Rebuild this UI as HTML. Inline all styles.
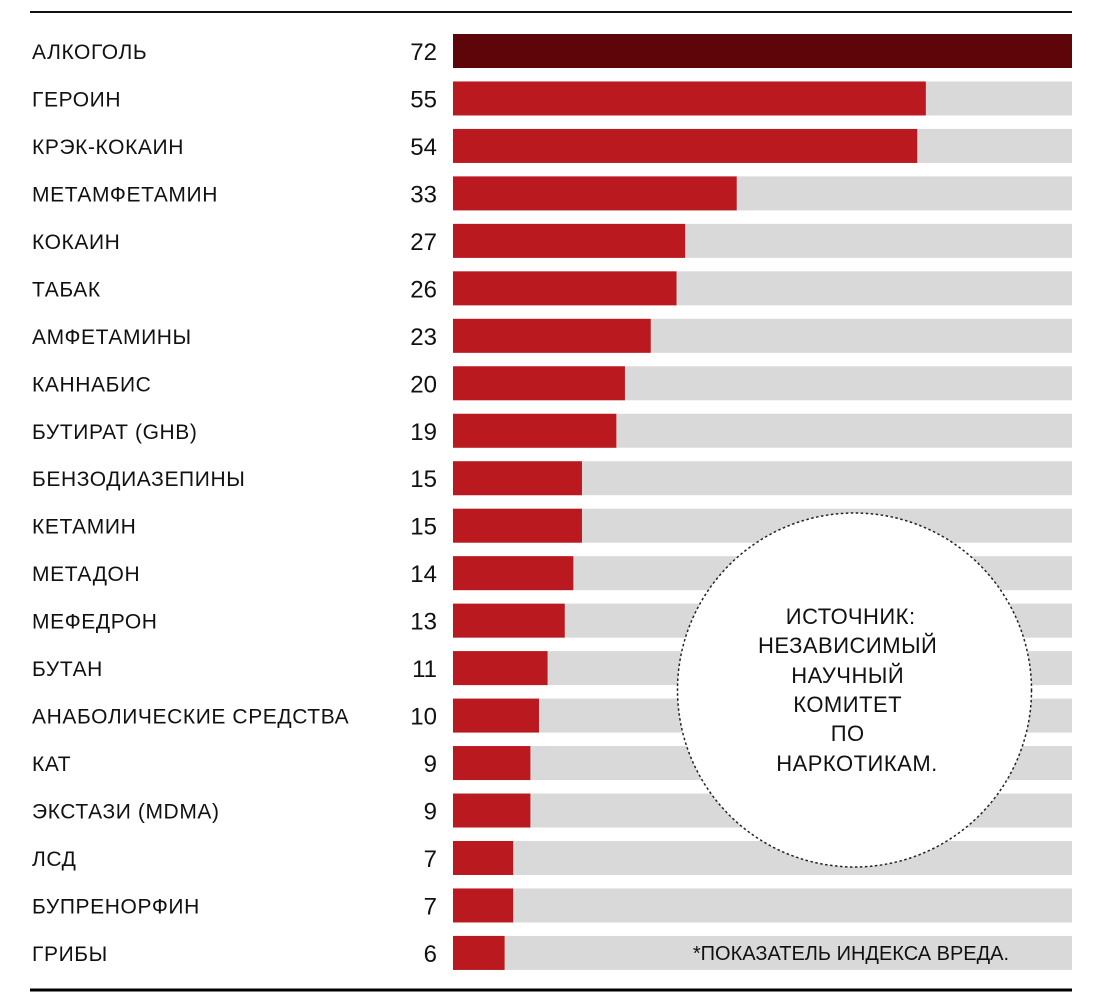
<!DOCTYPE html>
<html><head><meta charset="utf-8"><style>
html,body{margin:0;padding:0;background:#fff;}
svg{display:block;font-family:"Liberation Sans",sans-serif;}
</style></head><body>
<svg id="chart" width="1097" height="1007" viewBox="0 0 1097 1007">
<line x1="30" y1="12" x2="1072" y2="12" stroke="#111" stroke-width="2"/>
<line x1="30" y1="990" x2="1072" y2="990" stroke="#000" stroke-width="3"/>
<g id="rows"></g>
<circle cx="854.5" cy="690" r="177" fill="#fff" stroke="#222" stroke-width="1.5" stroke-dasharray="2.5,2.5"/>
<text text-anchor="middle" font-size="22" fill="#111" letter-spacing="0.5">
<tspan x="854" y="624">ИСТОЧНИК:</tspan>
<tspan x="851" y="653">НЕЗАВИСИМЫЙ</tspan>
<tspan x="851" y="683">НАУЧНЫЙ</tspan>
<tspan x="851" y="712">КОМИТЕТ</tspan>
<tspan x="851" y="741">ПО</tspan>
<tspan x="857" y="771">НАРКОТИКАМ.</tspan>
</text>
<text x="851" y="960" text-anchor="middle" font-size="20" fill="#111">*ПОКАЗАТЕЛЬ ИНДЕКСА ВРЕДА.</text>
</svg>
<script>
const categories=["АЛКОГОЛЬ","ГЕРОИН","КРЭК-КОКАИН","МЕТАМФЕТАМИН","КОКАИН","ТАБАК","АМФЕТАМИНЫ","КАННАБИС","БУТИРАТ (GHB)","БЕНЗОДИАЗЕПИНЫ","КЕТАМИН","МЕТАДОН","МЕФЕДРОН","БУТАН","АНАБОЛИЧЕСКИЕ СРЕДСТВА","КАТ","ЭКСТАЗИ (MDMA)","ЛСД","БУПРЕНОРФИН","ГРИБЫ"];
const values=[72,55,54,33,27,26,23,20,19,15,15,14,13,11,10,9,9,7,7,6];
const maxValue=72;
const NS="http://www.w3.org/2000/svg";
const x0=453,x1=1072,y0=34,pitch=47.47,bh=34;
function xScale(v){return x0+(x1-x0)*v/maxValue;}
function yScale(i){return y0+i*pitch;}
const g=document.getElementById('rows');
categories.forEach((c,i)=>{
  const y=yScale(i);
  const bg=document.createElementNS(NS,'rect');
  
  
  bg.setAttribute('x',x0);bg.setAttribute('y',y);bg.setAttribute('width',x1-x0);bg.setAttribute('height',bh);bg.setAttribute('fill','#d9d9d9');
  g.appendChild(bg);
  const b=document.createElementNS(NS,'rect');
  
  
  b.setAttribute('x',x0);b.setAttribute('y',y);b.setAttribute('width',xScale(values[i])-x0);b.setAttribute('height',bh);
  b.setAttribute('fill',i===0?'#5e0509':'#bb1920');
  g.appendChild(b);
  const t=document.createElementNS(NS,'text');
  
  
  t.setAttribute('x',32);t.setAttribute('y',y+25);t.setAttribute('font-size','21');t.setAttribute('letter-spacing','0.6');t.setAttribute('fill','#111');
  t.textContent=c;g.appendChild(t);
  const v=document.createElementNS(NS,'text');
  
  
  v.setAttribute('x',437);v.setAttribute('y',y+26);v.setAttribute('font-size','24');v.setAttribute('text-anchor','end');v.setAttribute('fill','#111');
  v.textContent=values[i];g.appendChild(v);
});
</script>
</body></html>
